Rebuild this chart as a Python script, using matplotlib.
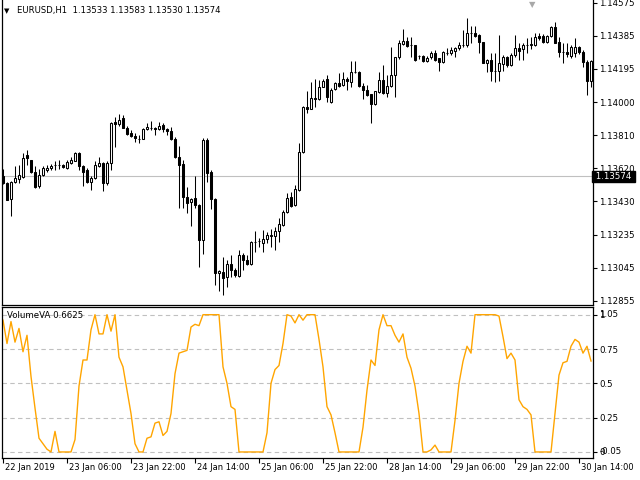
import numpy as np
import matplotlib.pyplot as plt
from matplotlib import transforms

# EURUSD H1, 22.01.2019 14:00 bis 30.01.2019 17:00 (148 Kerzen)
opens = [1.13576, 1.13535, 1.13443, 1.13541, 1.13558, 1.13570, 1.13697, 1.13668, 1.13599, 1.13518,
         1.13581, 1.13610, 1.13622, 1.13639, 1.13641, 1.13639, 1.13622, 1.13651, 1.13662, 1.13708,
         1.13633, 1.13610, 1.13541, 1.13564, 1.13633, 1.13651, 1.13535, 1.13651, 1.13887, 1.13876,
         1.13910, 1.13852, 1.13824, 1.13806, 1.13790, 1.13789, 1.13847, 1.13852, 1.13852, 1.13847,
         1.13870, 1.13847, 1.13835, 1.13789, 1.13685, 1.13645, 1.13454, 1.13426, 1.13449, 1.13408,
         1.13206, 1.13783, 1.13599, 1.13443, 1.13016, 1.13022, 1.12993, 1.13068, 1.13033, 1.12999,
         1.13120, 1.13091, 1.13068, 1.13195, 1.13200, 1.13189, 1.13212, 1.13229, 1.13229, 1.13258,
         1.13293, 1.13368, 1.13454, 1.13408, 1.13495, 1.13714, 1.13974, 1.13962, 1.14026, 1.14020,
         1.14089, 1.14135, 1.14003, 1.14078, 1.14112, 1.14101, 1.14135, 1.14118, 1.14176, 1.14176,
         1.14095, 1.14072, 1.14049, 1.13991, 1.14060, 1.14129, 1.14054, 1.14095, 1.14158, 1.14262,
         1.14337, 1.14354, 1.14331, 1.14331, 1.14268, 1.14268, 1.14239, 1.14262, 1.14285, 1.14256,
         1.14233, 1.14285, 1.14285, 1.14297, 1.14314, 1.14331, 1.14331, 1.14401, 1.14401, 1.14389,
         1.14349, 1.14228, 1.14245, 1.14181, 1.14181, 1.14222, 1.14262, 1.14216, 1.14274, 1.14314,
         1.14308, 1.14331, 1.14331, 1.14331, 1.14383, 1.14383, 1.14349, 1.14383, 1.14435, 1.14349,
         1.14291, 1.14291, 1.14268, 1.14285, 1.14320, 1.14291, 1.14233, 1.14124]
highs = [1.13616, 1.13541, 1.13547, 1.13633, 1.13639, 1.13708, 1.13726, 1.13668, 1.13633, 1.13616,
         1.13633, 1.13639, 1.13645, 1.13662, 1.13668, 1.13645, 1.13668, 1.13685, 1.13714, 1.13714,
         1.13639, 1.13622, 1.13576, 1.13662, 1.13685, 1.13656, 1.13662, 1.13887, 1.13916, 1.13933,
         1.13927, 1.13864, 1.13841, 1.13824, 1.13812, 1.13852, 1.13881, 1.13893, 1.13858, 1.13887,
         1.13881, 1.13852, 1.13858, 1.13801, 1.13749, 1.13668, 1.13512, 1.13449, 1.13576, 1.13414,
         1.13795, 1.13795, 1.13610, 1.13449, 1.13033, 1.13108, 1.13091, 1.13120, 1.13045, 1.13149,
         1.13131, 1.13120, 1.13200, 1.13258, 1.13218, 1.13264, 1.13252, 1.13270, 1.13281, 1.13333,
         1.13379, 1.13477, 1.13483, 1.13524, 1.13766, 1.13979, 1.14066, 1.14118, 1.14135, 1.14129,
         1.14135, 1.14158, 1.14083, 1.14118, 1.14170, 1.14176, 1.14147, 1.14239, 1.14239, 1.14181,
         1.14112, 1.14101, 1.14050, 1.14066, 1.14176, 1.14216, 1.14158, 1.14320, 1.14262, 1.14360,
         1.14424, 1.14378, 1.14378, 1.14332, 1.14274, 1.14274, 1.14268, 1.14297, 1.14303, 1.14257,
         1.14297, 1.14314, 1.14320, 1.14320, 1.14349, 1.14418, 1.14487, 1.14441, 1.14441, 1.14395,
         1.14350, 1.14251, 1.14285, 1.14285, 1.14389, 1.14274, 1.14268, 1.14285, 1.14389, 1.14343,
         1.14343, 1.14372, 1.14378, 1.14401, 1.14401, 1.14395, 1.14389, 1.14441, 1.14464, 1.14378,
         1.14343, 1.14343, 1.14331, 1.14372, 1.14326, 1.14303, 1.14245, 1.14245]
lows = [1.13529, 1.13437, 1.13345, 1.13535, 1.13535, 1.13564, 1.13639, 1.13593, 1.13506, 1.13506,
        1.13576, 1.13599, 1.13610, 1.13610, 1.13616, 1.13622, 1.13616, 1.13645, 1.13662, 1.13610,
        1.13518, 1.13535, 1.13495, 1.13558, 1.13627, 1.13489, 1.13524, 1.13610, 1.13743, 1.13864,
        1.13852, 1.13812, 1.13801, 1.13772, 1.13766, 1.13789, 1.13841, 1.13841, 1.13812, 1.13841,
        1.13829, 1.13812, 1.13783, 1.13679, 1.13391, 1.13391, 1.13362, 1.13287, 1.13391, 1.13050,
        1.13125, 1.13541, 1.13385, 1.12947, 1.12912, 1.12889, 1.12935, 1.12993, 1.12993, 1.12993,
        1.13033, 1.13062, 1.13062, 1.13137, 1.13166, 1.13137, 1.13189, 1.13166, 1.13149, 1.13195,
        1.13287, 1.13362, 1.13397, 1.13402, 1.13489, 1.13708, 1.13939, 1.13960, 1.13974, 1.14014,
        1.14087, 1.14003, 1.13997, 1.14072, 1.14089, 1.14095, 1.14072, 1.14089, 1.14170, 1.14089,
        1.14020, 1.14037, 1.13881, 1.13985, 1.14054, 1.14049, 1.14031, 1.14089, 1.14031, 1.14251,
        1.14331, 1.14320, 1.14262, 1.14239, 1.14251, 1.14233, 1.14233, 1.14251, 1.14239, 1.14181,
        1.14228, 1.14274, 1.14274, 1.14262, 1.14303, 1.14320, 1.14320, 1.14343, 1.14378, 1.14285,
        1.14228, 1.14176, 1.14124, 1.14118, 1.14124, 1.14181, 1.14204, 1.14210, 1.14262, 1.14245,
        1.14245, 1.14285, 1.14308, 1.14326, 1.14360, 1.14343, 1.14343, 1.14378, 1.14343, 1.14262,
        1.14228, 1.14262, 1.14256, 1.14262, 1.14279, 1.14204, 1.14043, 1.14089]
closes = [1.13535, 1.13437, 1.13541, 1.13564, 1.13581, 1.13679, 1.13679, 1.13599, 1.13512, 1.13581,
          1.13622, 1.13622, 1.13633, 1.13638, 1.13639, 1.13627, 1.13656, 1.13668, 1.13708, 1.13633,
          1.13599, 1.13541, 1.13564, 1.13639, 1.13651, 1.13535, 1.13651, 1.13881, 1.13876, 1.13899,
          1.13852, 1.13818, 1.13806, 1.13795, 1.13788, 1.13847, 1.13858, 1.13853, 1.13847, 1.13864,
          1.13847, 1.13835, 1.13789, 1.13685, 1.13639, 1.13454, 1.13420, 1.13443, 1.13408, 1.13206,
          1.13783, 1.13593, 1.13443, 1.13016, 1.13027, 1.12987, 1.13068, 1.13033, 1.13004, 1.13120,
          1.13091, 1.13068, 1.13195, 1.13194, 1.13199, 1.13212, 1.13235, 1.13235, 1.13258, 1.13299,
          1.13368, 1.13449, 1.13402, 1.13500, 1.13714, 1.13974, 1.13962, 1.14026, 1.14020, 1.14089,
          1.14124, 1.14031, 1.14072, 1.14112, 1.14095, 1.14135, 1.14124, 1.14176, 1.14175, 1.14095,
          1.14072, 1.14043, 1.13991, 1.14066, 1.14129, 1.14054, 1.14095, 1.14158, 1.14262, 1.14343,
          1.14354, 1.14326, 1.14330, 1.14245, 1.14267, 1.14239, 1.14256, 1.14285, 1.14245, 1.14233,
          1.14291, 1.14286, 1.14303, 1.14314, 1.14331, 1.14332, 1.14401, 1.14400, 1.14383, 1.14349,
          1.14229, 1.14245, 1.14181, 1.14180, 1.14228, 1.14262, 1.14216, 1.14274, 1.14314, 1.14297,
          1.14331, 1.14330, 1.14337, 1.14378, 1.14372, 1.14349, 1.14383, 1.14435, 1.14343, 1.14291,
          1.14290, 1.14279, 1.14320, 1.14320, 1.14291, 1.14233, 1.14124, 1.14239]

# Indikator VolumeVA
volva = [0.96, 0.79, 0.95, 0.80, 0.90, 0.73, 0.85, 0.55, 0.32, 0.10,
         0.06, 0.02, 0.0, 0.15, 0.0, 0.0, 0.0, 0.0, 0.09, 0.48,
         0.67, 0.67, 0.89, 1.0, 0.86, 0.86, 1.0, 0.88, 1.0, 0.69,
         0.62, 0.45, 0.28, 0.06, 0.0, 0.0, 0.10, 0.11, 0.21, 0.22,
         0.12, 0.15, 0.28, 0.57, 0.72, 0.73, 0.74, 0.91, 0.93, 0.92,
         1.0, 1.0, 1.0, 1.0, 1.0, 0.62, 0.50, 0.33, 0.31, 0.0,
         0.0, 0.0, 0.0, 0.0, 0.0, 0.0, 0.14, 0.50, 0.60, 0.63,
         0.79, 1.0, 0.99, 0.94, 1.0, 0.96, 1.0, 1.0, 1.0, 0.82,
         0.62, 0.33, 0.27, 0.14, 0.0, 0.0, 0.0, 0.0, 0.0, 0.0,
         0.18, 0.45, 0.67, 0.63, 0.89, 1.0, 0.92, 0.92, 0.85, 0.80,
         0.86, 0.69, 0.61, 0.48, 0.28, 0.0, 0.0, 0.015, 0.05, 0.0,
         0.0, 0.0, 0.0, 0.23, 0.50, 0.66, 0.77, 0.72, 1.0, 1.0,
         1.0, 1.0, 1.0, 1.0, 0.99, 0.84, 0.68, 0.72, 0.67, 0.38,
         0.33, 0.31, 0.27, 0.0, 0.0, 0.0, 0.0, 0.0, 0.28, 0.56,
         0.65, 0.66, 0.77, 0.82, 0.80, 0.72, 0.77, 0.6625]

price_ticks = [1.14575, 1.14385, 1.14195, 1.14000, 1.13810, 1.13620, 1.13430, 1.13235, 1.13045, 1.12855]
time_pos = [0, 16, 32, 48, 64, 80, 96, 112, 128, 144]
time_labels = ['22 Jan 2019', '23 Jan 06:00', '23 Jan 22:00', '24 Jan 14:00', '25 Jan 06:00',
               '25 Jan 22:00', '28 Jan 14:00', '29 Jan 06:00', '29 Jan 22:00', '30 Jan 14:00']
levels = [0, 0.25, 0.5, 0.75, 1.0]
level_labels = ['0', '0.25', '0.5', '0.75', '1']
last_price = 1.13574
header = 'EURUSD,H1  1.13533 1.13583 1.13530 1.13574'

plt.rcParams['font.family'] = 'DejaVu Sans'
W, H = 640, 480
fig = plt.figure(figsize=(6.4, 4.8), dpi=100)

def box(x0, y0, x1, y1):                       # Pixel -> Figurbruchteil
    return [x0 / W, 1 - y1 / H, (x1 - x0) / W, (y1 - y0) / H]

ax = fig.add_axes(box(2, 0, 593, 305))
ax2 = fig.add_axes(box(2, 307, 593, 458))

# Kerzen
o = np.array(opens); h = np.array(highs); l = np.array(lows); c = np.array(closes)
x = np.arange(len(o))
up = c >= o
ax.vlines(x, l, h, color='black', lw=0.75, zorder=2)
ax.bar(x, np.maximum(np.abs(c - o), 0.000005), bottom=np.minimum(o, c), width=0.5,
       color=np.where(up, 'white', 'black'), edgecolor='black', linewidth=0.75, zorder=3)
ax.axhline(last_price, color='#C0C0C0', lw=0.8, zorder=1)

ax.set_xlim(-0.25, 147.5)
ax.set_ylim(1.12831, 1.14591)
ax.set_xticks([])
ax.set_yticks(price_ticks)
ax.set_yticklabels(['%.5f' % p for p in price_ticks])
ax.yaxis.tick_right()
ax.tick_params(axis='y', length=3, width=0.8, pad=1.5, labelsize=6.2, colors='black')
ax.spines['top'].set_visible(False)
for s in ['left', 'right', 'bottom']:
    ax.spines[s].set_linewidth(0.9)

# aktueller Preis
ax.text(1.0, last_price, ' 1.13574 ', transform=ax.get_yaxis_transform(), ha='left', va='center',
        fontsize=6.2, color='white', zorder=5, clip_on=False,
        bbox=dict(facecolor='black', edgecolor='black', boxstyle='square,pad=0.12'))

# grauer Marker oben
ax.text(132.25, 1.0, '\u25bc', transform=ax.get_xaxis_transform(), ha='center', va='top',
        fontsize=6, color='#A8A8A8', clip_on=False)

fig.text(4 / W, 1 - 11 / H, '\u25bc', fontsize=5, va='center', ha='left')
fig.text(17 / W, 1 - 11 / H, header, fontsize=6.1, va='center', ha='left')

# Indikator-Fenster
for v in levels:
    ax2.axhline(v, color='#C0C0C0', lw=0.8, ls=(0, (4, 3)), zorder=1)
ax2.plot(x, volva, color='#FFA500', lw=1.0, zorder=2)
ax2.set_xlim(-0.25, 147.5)
ax2.set_ylim(-0.044, 1.056)
ax2.yaxis.tick_right()
ax2.set_yticks(levels)
ax2.set_yticklabels(level_labels)
ax2.tick_params(axis='y', length=3, width=0.8, pad=1.5, labelsize=6.2)
for s in ax2.spines.values():
    s.set_linewidth(0.9)
off = transforms.offset_copy(ax2.get_yaxis_transform(), fig=fig, x=6.2, y=0, units='dots')
ax2.text(1.0, 1.0, '1.05', transform=off, ha='left', va='center', fontsize=6.2)
ax2.text(1.0, 0.0, '-0.05', transform=off, ha='left', va='center', fontsize=6.2)
ax2.text(5 / 591, 1 - 8 / 151, 'VolumeVA 0.6625', transform=ax2.transAxes, fontsize=6.2,
         ha='left', va='center')

ax2.set_xticks(time_pos)
ax2.set_xticklabels([''] * len(time_pos))
ax2.tick_params(axis='x', length=3.5, width=0.8)
lab = transforms.offset_copy(ax2.get_xaxis_transform(), fig=fig, x=2, y=-10, units='dots')
for p, t in zip(time_pos, time_labels):
    ax2.text(p, 0, t, transform=lab, ha='left', va='center', fontsize=6.0)

fig.savefig('out.png', dpi=100)
